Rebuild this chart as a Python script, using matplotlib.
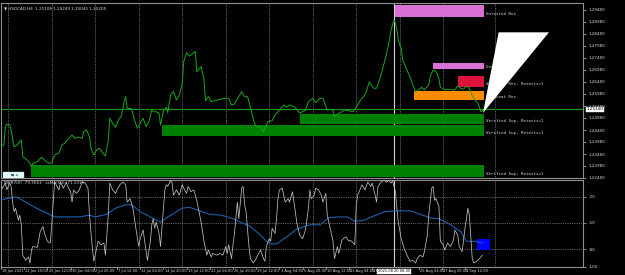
import matplotlib
matplotlib.use("Agg")
import matplotlib.pyplot as plt
from matplotlib.patches import Rectangle, Polygon
import matplotlib.transforms as mtransforms

# ---------------- data ----------------
price_bars = [0,3,4,5,7,8,10,12,14,15,16,19,21,22,23,26,29,31,34,36,38,41,43,45,47,50,52,54,57,58,
              60,62,63,65,67,69,71,73,75,76,78,80,82,84,86,87,88,91,93,95,97,99,101,103,105,106,108,110,111,113,
              115,116,118,120,122,124,126,127,129,131,135,136,138,139,141,142,144,146,150,153,155,158,160,162,165,167,169,171,173,175,
              177,180,182,184,185,188,190,192,196,198,200,203,205,207,211,213,216,218,221,223,226,228,230,231,234,236,238,241,244,246,
              249,251,253,255,258,260,262,264,267,269,270,272,273,274,275,277,278,281,283,285,287,289,291,293,296,297,299,301,303,304,
              307,309,312,314,316,318,320,322,324,326,328,330,332,333]
price_vals = [1.2372,1.2386,1.2462,1.2472,1.2469,1.2448,1.2378,1.2386,1.2399,1.2406,1.2337,1.2323,1.2309,1.2295,1.2309,1.2316,1.2334,1.2323,1.2309,1.2312,
              1.2344,1.2353,1.2386,1.2393,1.2409,1.2427,1.2413,1.2418,1.2413,1.2441,1.2448,1.2420,1.2372,1.2344,1.2365,1.2372,1.2353,1.2340,1.2406,1.2497,
              1.2476,1.2459,1.2490,1.2506,1.2566,1.2587,1.2538,1.2538,1.2490,1.2455,1.2476,1.2497,1.2462,1.2483,1.2531,1.2524,1.2524,1.2518,1.2469,1.2528,
              1.2543,1.2520,1.2594,1.2608,1.2573,1.2594,1.2643,1.2733,1.2770,1.2756,1.2775,1.2691,1.2705,1.2712,1.2659,1.2570,1.2587,1.2566,1.2573,1.2577,
              1.2580,1.2580,1.2552,1.2556,1.2587,1.2608,1.2587,1.2587,1.2545,1.2490,1.2462,1.2462,1.2441,1.2469,1.2483,1.2487,1.2511,1.2524,1.2552,1.2543,
              1.2552,1.2545,1.2534,1.2518,1.2531,1.2566,1.2580,1.2562,1.2580,1.2580,1.2531,1.2534,1.2531,1.2503,1.2518,1.2524,1.2531,1.2528,1.2524,1.2543,
              1.2573,1.2587,1.2608,1.2649,1.2622,1.2622,1.2656,1.2698,1.2768,1.2827,1.2865,1.2904,1.2893,1.2865,1.2823,1.2788,1.2740,1.2698,1.2670,1.2636,
              1.2608,1.2615,1.2626,1.2615,1.2636,1.2670,1.2698,1.2691,1.2663,1.2626,1.2615,1.2618,1.2615,1.2615,1.2631,1.2622,1.2618,1.2631,1.2622,1.2590,
              1.2573,1.2559,1.2524,1.2529]
bid_price = 1.2534

wpr_bars = [0,2,4,5,7,8,9,10,11,13,14,15,16,18,20,21,22,23,26,27,28,30,31,33,35,36,37,38,39,41,
            42,44,46,47,49,50,51,53,55,57,59,61,62,64,65,67,68,70,72,73,75,76,78,80,81,83,85,87,88,90,
            92,94,96,97,99,100,102,104,105,106,107,108,110,111,113,114,115,116,118,119,120,122,124,126,127,129,130,132,134,136,
            138,139,141,143,144,146,147,150,152,154,156,157,158,160,161,162,164,165,167,168,169,170,172,173,175,177,178,180,182,183,
            184,186,187,188,190,191,192,193,195,197,199,200,202,204,205,207,209,211,213,214,215,217,218,220,222,223,225,226,228,230,
            231,233,234,236,237,239,241,242,244,245,246,247,249,250,252,254,256,257,259,260,261,263,265,267,268,270,271,273,274,275,
            277,279,281,283,285,287,288,290,292,293,295,296,298,299,300,301,303,304,306,307,309,311,313,314,316,317,319,320,321,323,
            324,326,327,329,331,333]
wpr_vals = [-6,-10,-4,-12,-4,-8,-26,-37,-33,-47,-41,-52,-87,-93,-89,-96,-81,-77,-78,-70,-60,-54,-62,-71,-73,-52,-26,-3,-6,-12,
            -3,-10,-3,-8,-14,-26,-12,-16,-12,-3,-4,-10,-41,-79,-94,-79,-71,-75,-73,-87,-41,-4,-12,-16,-12,-6,-3,-6,-26,-22,
            -33,-56,-77,-68,-58,-70,-93,-71,-52,-45,-56,-49,-62,-77,-33,-12,-6,-8,-1,-4,-18,-12,-18,-6,-10,-16,-8,-14,-12,-24,
            -41,-49,-71,-87,-81,-89,-85,-87,-85,-87,-77,-85,-75,-91,-75,-62,-26,-45,-10,-8,-29,-37,-77,-91,-96,-91,-87,-81,-91,-94,
            -77,-68,-71,-56,-62,-45,-22,-12,-10,-26,-22,-26,-14,-37,-50,-64,-68,-58,-33,-12,-22,-18,-10,-12,-18,-26,-16,-41,-56,-71,
            -91,-77,-85,-70,-68,-66,-71,-70,-73,-75,-29,-18,-10,-6,-12,-3,-8,-4,-18,-26,-8,-3,-1,-3,-1,-4,-1,-14,-33,-49,
            -68,-79,-87,-94,-93,-96,-91,-87,-89,-83,-64,-41,-10,-8,-24,-22,-31,-71,-75,-81,-73,-77,-70,-58,-64,-77,-83,-70,-56,-33,
            -41,-91,-96,-94,-91,-87]

ma_bars = [0,5,11,14,21,28,33,38,46,55,62,66,74,80,87,91,97,104,111,118,126,131,138,145,153,161,166,173,180,184,
           187,191,198,205,214,221,227,233,240,245,251,258,266,274,283,290,297,303,311,318,322,328,333]
ma_vals = [-24,-22,-20,-22,-29,-35,-39,-43,-43,-43,-41,-43,-40,-33,-29,-29,-37,-43,-49,-41,-33,-32,-36,-40,-41,-45,-49,-54,-64,-71,
           -74,-74,-66,-57,-52,-52,-44,-43,-43,-48,-47,-42,-37,-36,-36,-40,-44,-45,-52,-60,-71,-71,-73]

# zones
zone_start = [273, 299, 316, 286, 207, 112, 22]
zone_end   = [334, 334, 334, 334, 334, 334, 334]
zone_low   = [1.2918, 1.2703, 1.2628, 1.2573, 1.2474, 1.2422, 1.2251]
zone_high  = [1.2968, 1.2727, 1.2673, 1.2609, 1.2513, 1.2468, 1.2301]
zone_color = ['#DA70D6', '#DA70D6', '#DC143C', '#FF8C00', '#008000', '#008000', '#008000']
zone_label = ['Untested Res', 'Untested Res', 'Verified Res, Retests=1', 'Turncoat Res',
              'Verified Sup, Retests=1', 'Verified Sup, Retests=1', 'Verified Sup, Retests=1']

price_ticks = [1.2948, 1.2898, 1.2848, 1.2798, 1.2748, 1.2698, 1.2648, 1.2598, 1.2548, 1.2498,
               1.2448, 1.2398, 1.2348, 1.2298, 1.2248]
wpr_ticks = [-20, -50, -80, -100]

time_bars = [1,17,33,49,65,81,97,113,129,145,161,177,193,209,225,241,257,289,305,321]
time_labels = ['18 Jun 2021','22 Jun 20:00','25 Jun 12:00','30 Jun 04:00','2 Jul 20:00','7 Jul 12:00',
               '12 Jul 04:00','14 Jul 20:00','19 Jul 12:00','22 Jul 04:00','26 Jul 20:00','29 Jul 12:00',
               '3 Aug 04:00','5 Aug 20:00','10 Aug 12:00','13 Aug 04:00','17 Aug 20:00',
               '25 Aug 04:00','27 Aug 20:00','1 Sep 12:00']
grid_bars = [6,36,66,96,126,156,186,216,246,276,306,341.5]
marker_bar = 272
marker_label = '2021.08.20 08:00'
triangle_bars = [333.4, 344.2, 378.9]
triangle_prices = [1.2519, 1.2855, 1.2855]
blue_box = (329.3, 338.2, -81, -68)

# ---------------- figure ----------------
W, H = 625, 275
fig = plt.figure(figsize=(W/100, H/100), dpi=100, facecolor='black')

def px_axes(l, t, r, b):
    return fig.add_axes([l/W, 1-b/H, (r-l)/W, (b-t)/H])

ax1 = px_axes(1, 3, 583, 178)
ax2 = px_axes(1, 179.5, 583, 266.5)
PXB = 1.45
xl = (1, 1 + 582/PXB)
TXT = '#d8d8d8'
FS = 3.0
TFS = 2.6

for ax in (ax1, ax2):
    ax.set_facecolor('black')
    ax.set_xlim(*xl)
    for s in ax.spines.values():
        s.set_color('#909090')
        s.set_linewidth(0.8)
    ax.set_xticks([])
    ax.yaxis.tick_right()
    ax.tick_params(axis='y', colors='#c0c0c0', labelcolor=TXT, labelsize=FS, length=2, width=0.5, pad=2)
    for gb in grid_bars:
        ax.axvline(gb, color='#b8b8b8', lw=0.5, ls=(0, (1, 1.6)), zorder=1)
    ax.axvline(marker_bar, color='#d0d0d0', lw=0.8, zorder=2)

ax1.set_ylim(1.2248, 1.2948 + 7/2400)
ax1.set_yticks(price_ticks)
ax1.set_yticklabels(['%.5f' % p for p in price_ticks])

for s, e, lo, hi, c, lab in zip(zone_start, zone_end, zone_low, zone_high, zone_color, zone_label):
    ax1.add_patch(Rectangle((s, lo), e - s, hi - lo, facecolor=c, edgecolor='none', zorder=3))
    ax1.text(e + 1.5, lo + (hi - lo) * 0.3, lab, color=TXT, fontsize=FS, va='center', ha='left',
             zorder=4, family='DejaVu Sans Mono')

ax1.axhline(bid_price, color='#10a010', lw=0.8, zorder=2)
ax1.plot(price_bars, price_vals, color='#16a816', lw=0.7, zorder=5)
ax1.add_patch(Polygon(list(zip(triangle_bars, triangle_prices)), closed=True,
                      facecolor='white', edgecolor='none', zorder=6))

ax1.annotate('%.5f' % bid_price, xy=(1.0, bid_price), xycoords=('axes fraction', 'data'),
             xytext=(2.5, 0), textcoords='offset points', fontsize=FS, color='black',
             va='center', ha='left', annotation_clip=False,
             bbox=dict(boxstyle='square,pad=0.15', fc='white', ec='white', lw=0.3), zorder=10)

ax1.add_patch(Rectangle((2/582, 0.5/175), 21/582, 5.5/175, transform=ax1.transAxes,
                        facecolor='#e6ffff', edgecolor='#9fd0d0', lw=0.3, zorder=8))
ax1.text(13.5/582, 3.3/175, '\u25a0 \u2261', transform=ax1.transAxes, fontsize=2.4,
         color='#305050', ha='center', va='center', zorder=9)

# ---------------- indicator ----------------
ax2.set_ylim(-100, 0)
ax2.set_yticks(wpr_ticks)
ax2.set_yticklabels([str(v) for v in wpr_ticks])
for lv in (-20, -50, -80):
    ax2.axhline(lv, color='#b8b8b8', lw=0.5, ls=(0, (1, 1.6)), zorder=1)
ax2.add_patch(Rectangle((blue_box[0], blue_box[2]), blue_box[1] - blue_box[0], blue_box[3] - blue_box[2],
                        facecolor='#0000ff', edgecolor='none', zorder=3))
ax2.plot(ma_bars, ma_vals, color='#1f5fae', lw=0.8, zorder=4)
ax2.plot(wpr_bars, wpr_vals, color='#c0c0c0', lw=0.55, zorder=5)
ax2.text(3, -3.5, 'WPR(50) -79.3063   ssMA(50) -71.1319', color=TXT, fontsize=FS, va='center', ha='left', zorder=6)

tr = mtransforms.blended_transform_factory(ax2.transData, ax2.transAxes)
for b, lab in zip(time_bars, time_labels):
    ax2.plot([b, b], [0, -0.025], transform=tr, color='#c0c0c0', lw=0.5, clip_on=False)
    ax2.text(b + 0.8, -0.055, lab, transform=tr, fontsize=TFS, color=TXT, ha='left', va='center', clip_on=False)
ax2.text(marker_bar, -0.055, marker_label, transform=tr, fontsize=TFS, color='black', ha='center', va='center',
         clip_on=False, zorder=10, bbox=dict(boxstyle='square,pad=0.2', fc='white', ec='white', lw=0.3))

fig.text(4/W, 1 - 8/H, '\u25bc USDCAD,H4  1.25108 1.25249 1.25045 1.25205', color=TXT, fontsize=FS,
         ha='left', va='center')

fig.savefig('out.png', dpi=100, facecolor='black')
